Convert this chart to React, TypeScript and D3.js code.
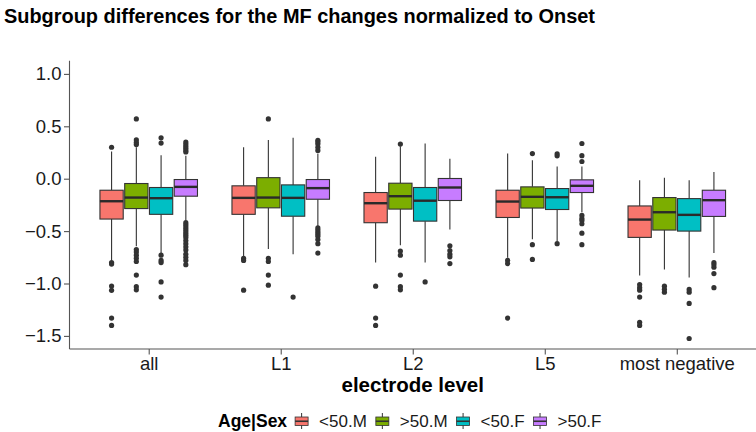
import React, { useEffect, useRef } from "react";
import * as d3 from "d3";

const categories = ["all", "L1", "L2", "L5", "most negative"];
const groups = ["<50.M", ">50.M", "<50.F", ">50.F"];
const groupColors = ["#F8766D", "#7CAE00", "#00BFC4", "#C77CFF"];
const yTicks = [1.0, 0.5, 0.0, -0.5, -1.0, -1.5];

// indexed [group][category]
const whiskerLow = [
  [-0.78, -0.746, -0.8, -0.755, -0.924],
  [-0.645, -0.67, -0.635, -0.577, -0.867],
  [-0.71, -0.72, -0.8, -0.6, -0.943],
  [-0.4, -0.46, -0.485, -0.32, -0.708],
];
const q1Values = [
  [-0.385, -0.34, -0.42, -0.37, -0.56],
  [-0.285, -0.278, -0.29, -0.28, -0.49],
  [-0.34, -0.358, -0.405, -0.294, -0.5],
  [-0.167, -0.196, -0.208, -0.132, -0.36],
];
const medianValues = [
  [-0.215, -0.183, -0.234, -0.218, -0.39],
  [-0.18, -0.18, -0.167, -0.173, -0.32],
  [-0.186, -0.183, -0.21, -0.177, -0.345],
  [-0.078, -0.09, -0.084, -0.068, -0.205],
];
const q3Values = [
  [-0.11, -0.068, -0.132, -0.11, -0.26],
  [-0.046, 0.01, -0.043, -0.078, -0.18],
  [-0.084, -0.059, -0.084, -0.094, -0.19],
  [-0.008, -0.008, 0.002, -0.011, -0.11],
];
const whiskerHigh = [
  [0.26, 0.3, 0.21, 0.24, -0.014],
  [0.3, 0.37, 0.31, 0.176, 0.01],
  [0.224, 0.39, 0.335, 0.116, -0.014],
  [0.22, 0.24, 0.19, 0.116, 0.065],
];
const outlierValues = [
  [
    [0.3, -0.8, -0.815, -1.025, -1.065, -1.33, -1.4],
    [-0.76, -0.78, -1.064],
    [-1.026, -1.33, -1.4],
    [-0.78, -0.81, -1.33],
    [-1.01, -1.04, -1.064, -1.13, -1.37, -1.4],
  ],
  [
    [0.326, 0.345, 0.37, 0.57, -0.676, -0.7, -0.73, -0.76, -0.79, -0.92, -1.03, -1.06],
    [0.57, -0.76, -0.79, -0.92, -1.016],
    [0.33, -0.69, -0.73, -0.92, -1.03, -1.06],
    [0.24, -0.63, -0.77],
    [-1.026, -1.055, -1.083],
  ],
  [
    [0.34, 0.39, -0.73, -0.78, -0.8, -0.985, -1.13],
    [-1.13],
    [-0.985],
    [0.218, 0.237, -0.62],
    [-1.057, -1.083, -1.19, -1.525],
  ],
  [
    [0.255, 0.27, 0.29, 0.31, 0.33, 0.35, -0.42, -0.44, -0.46, -0.48, -0.5, -0.52, -0.54, -0.56, -0.59, -0.62, -0.65, -0.68, -0.72, -0.75, -0.78, -0.82],
    [0.27, 0.3, 0.33, 0.35, 0.367, -0.47, -0.49, -0.51, -0.53, -0.55, -0.58, -0.62, -0.71],
    [-0.64, -0.685, -0.72, -0.745, -0.81],
    [0.164, 0.22, 0.336, -0.35, -0.38, -0.4, -0.43, -0.52, -0.63],
    [-0.8, -0.82, -0.845, -0.905, -1.04],
  ],
];

const W = 756;
const H = 432;
const FONT = "'Liberation Sans', Arial, Helvetica, sans-serif";

export default function App() {
  const ref = useRef<SVGSVGElement | null>(null);

  useEffect(() => {
    const svg = d3.select(ref.current);
    svg.selectAll("*").remove();

    const left = 69.5;
    const right = 756;
    const top = 60.8;
    const bottom = 349;

    const x = d3.scalePoint<string>().domain(categories).range([left, right]).padding(0.6);
    const y = d3.scaleLinear().domain([-1.625, 1.125]).range([bottom, top]);
    const step = x.step();
    const dodge = d3
      .scaleBand<string>()
      .domain(groups)
      .range([-0.375 * step, 0.375 * step]);
    const boxW = dodge.bandwidth() * 0.94;

    // title
    svg
      .append("text")
      .attr("x", 4)
      .attr("y", 23)
      .attr("font-family", FONT)
      .attr("font-weight", "bold")
      .attr("font-size", 20.5)
      .attr("textLength", 591)
      .attr("lengthAdjust", "spacingAndGlyphs")
      .attr("fill", "#000")
      .text("Subgroup differences for the MF changes normalized to Onset");

    const plot = svg.append("g");

    groups.forEach((g, gi) => {
      categories.forEach((c, ci) => {
        const cx = (x(c) as number) + (dodge(g) as number) + dodge.bandwidth() / 2;
        const grp = plot.append("g");
        grp
          .append("line")
          .attr("x1", cx)
          .attr("x2", cx)
          .attr("y1", y(q3Values[gi][ci]))
          .attr("y2", y(whiskerHigh[gi][ci]))
          .attr("stroke", "#333")
          .attr("stroke-width", 1.1);
        grp
          .append("line")
          .attr("x1", cx)
          .attr("x2", cx)
          .attr("y1", y(q1Values[gi][ci]))
          .attr("y2", y(whiskerLow[gi][ci]))
          .attr("stroke", "#333")
          .attr("stroke-width", 1.1);
        grp
          .append("rect")
          .attr("x", cx - boxW / 2)
          .attr("width", boxW)
          .attr("y", y(q3Values[gi][ci]))
          .attr("height", y(q1Values[gi][ci]) - y(q3Values[gi][ci]))
          .attr("fill", groupColors[gi])
          .attr("stroke", "#333")
          .attr("stroke-width", 1.1);
        grp
          .append("line")
          .attr("x1", cx - boxW / 2)
          .attr("x2", cx + boxW / 2)
          .attr("y1", y(medianValues[gi][ci]))
          .attr("y2", y(medianValues[gi][ci]))
          .attr("stroke", "#2a2a2a")
          .attr("stroke-width", 2.4);
        grp
          .selectAll("circle")
          .data(outlierValues[gi][ci])
          .enter()
          .append("circle")
          .attr("cx", cx)
          .attr("cy", (v) => y(v))
          .attr("r", 2.6)
          .attr("fill", "#333");
      });
    });

    // axes
    const axisColor = "#555";
    const yAxis = svg
      .append("g")
      .attr("transform", `translate(${left},0)`)
      .call(
        d3
          .axisLeft(y)
          .tickValues(yTicks)
          .tickSize(5.5)
          .tickPadding(2.5)
          .tickFormat(d3.format(".1f"))
      );
    yAxis.select(".domain").attr("stroke", axisColor).attr("stroke-width", 1.1).attr("d", `M0,${top}V${bottom}`);
    yAxis.selectAll(".tick line").attr("stroke", axisColor).attr("stroke-width", 1.1);
    yAxis
      .selectAll(".tick text")
      .attr("font-family", FONT)
      .attr("font-size", 18.5)
      .attr("fill", "#1a1a1a")
      .text((d: any) => d3.format(".1f")(d).replace("-", "\u2212"));

    const xAxis = svg
      .append("g")
      .attr("transform", `translate(0,${bottom})`)
      .call(d3.axisBottom(x).tickSize(5.5).tickPadding(2.5));
    xAxis.select(".domain").attr("stroke", axisColor).attr("stroke-width", 1.1).attr("d", `M${left},0H${right}`);
    xAxis.selectAll(".tick line").attr("stroke", axisColor).attr("stroke-width", 1.1);
    xAxis
      .selectAll(".tick text")
      .attr("font-family", FONT)
      .attr("font-size", 18.5)
      .attr("fill", "#1a1a1a");

    // axis title
    svg
      .append("text")
      .attr("x", (left + right) / 2)
      .attr("y", 392)
      .attr("text-anchor", "middle")
      .attr("font-family", FONT)
      .attr("font-weight", "bold")
      .attr("font-size", 20.5)
      .attr("fill", "#000")
      .text("electrode level");

    // legend
    const legY = 427;
    const leg = svg.append("g");
    const legTitle = leg
      .append("text")
      .attr("x", 0)
      .attr("y", legY)
      .attr("font-family", FONT)
      .attr("font-weight", "bold")
      .attr("font-size", 17.5)
      .attr("fill", "#000")
      .text("Age|Sex");
    let cursor = (legTitle.node() as SVGTextElement).getComputedTextLength() + 8;
    groups.forEach((g, gi) => {
      const kx = cursor;
      const kc = kx + 6.5;
      leg
        .append("line")
        .attr("x1", kc)
        .attr("x2", kc)
        .attr("y1", legY - 14)
        .attr("y2", legY + 2)
        .attr("stroke", "#333")
        .attr("stroke-width", 1);
      leg
        .append("rect")
        .attr("x", kx)
        .attr("y", legY - 10)
        .attr("width", 13)
        .attr("height", 8.5)
        .attr("fill", groupColors[gi])
        .attr("stroke", "#333")
        .attr("stroke-width", 0.8);
      leg
        .append("line")
        .attr("x1", kx)
        .attr("x2", kx + 13)
        .attr("y1", legY - 5.75)
        .attr("y2", legY - 5.75)
        .attr("stroke", "#333")
        .attr("stroke-width", 1.6);
      const t = leg
        .append("text")
        .attr("x", kx + 24)
        .attr("y", legY)
        .attr("font-family", FONT)
        .attr("font-size", 17)
        .attr("fill", "#1a1a1a")
        .text(g);
      cursor = kx + 24 + (t.node() as SVGTextElement).getComputedTextLength() + 9;
    });
    leg.attr("transform", `translate(218,0)`);
  }, []);

  return (
    <svg
      ref={ref}
      width={W}
      height={H}
      style={{ position: "absolute", left: 0, top: 0, background: "#fff", display: "block" }}
    />
  );
}
